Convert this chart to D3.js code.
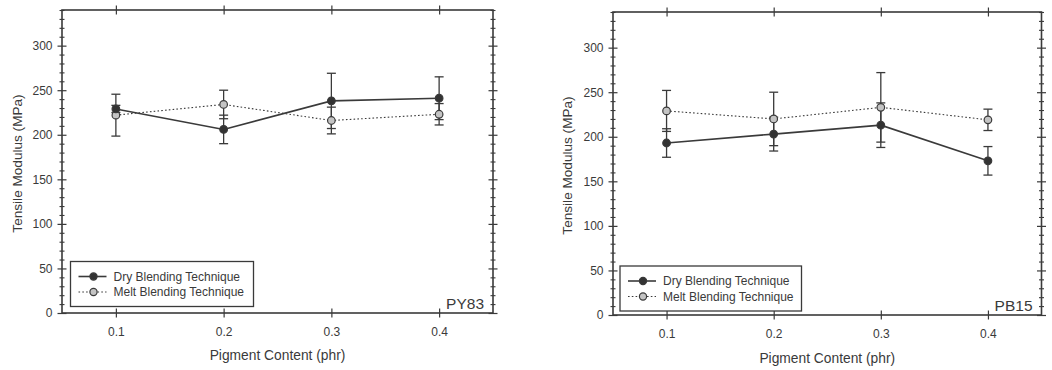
<!DOCTYPE html>
<html>
<head>
<meta charset="utf-8">
<script src="https://cdn.jsdelivr.net/npm/d3@7"></script>
<style>
  html, body { margin: 0; padding: 0; background: #fff; }
  svg { display: block; }
  text { font-family: "Liberation Sans", Arial, sans-serif; fill: #3a3a3a; }
</style>
</head>
<body>
<svg id="chart" width="1052" height="370"></svg>
<script>
// Pigment loading levels (phr)
const pigmentContent = [0.1, 0.2, 0.3, 0.4];

// PY83: tensile modulus (MPa) and error bar half-widths
const py83DryMean  = [229, 206, 238, 241];
const py83DryErr   = [4, 16, 31, 24];
const py83MeltMean = [222, 234, 216, 223];
const py83MeltErr  = [23.5, 16, 15, 12];

// PB15: tensile modulus (MPa) and error bar half-widths
const pb15DryMean  = [193, 203, 213, 173];
const pb15DryErr   = [16, 19, 25, 16];
const pb15MeltMean = [229, 220, 233, 219];
const pb15MeltErr  = [23, 30, 39, 12];

// Axis ticks
const xTickValues = [0.1, 0.2, 0.3, 0.4];
const yMajorTicks = [0, 50, 100, 150, 200, 250, 300];
const yMinorTicks = d3.range(0, 341, 10).filter(v => v % 50 !== 0);

const seriesNames = ["Dry Blending Technique", "Melt Blending Technique"];

const svg = d3.select("#chart");
const ink = "#3a3a3a";

function drawPanel(opts) {
  const x = d3.scaleLinear().domain([0.05, 0.45]).range([opts.left, opts.right]);
  const y = d3.scaleLinear().domain([0, 340]).range([opts.bottom, opts.top]);
  const g = svg.append("g");

  // Y minor ticks (left and right), crossing the frame
  const minorLeft = g.append("g").attr("transform", `translate(${opts.left},0)`)
    .call(d3.axisLeft(y).tickValues(yMinorTicks).tickFormat("").tickSize(2.5));
  const minorRight = g.append("g").attr("transform", `translate(${opts.right},0)`)
    .call(d3.axisRight(y).tickValues(yMinorTicks).tickFormat("").tickSize(2.5));
  [minorLeft, minorRight].forEach(a => {
    a.select(".domain").remove();
    a.selectAll(".tick line").attr("x1", -2.5).attr("x2", 2.5)
      .attr("stroke", ink).attr("stroke-width", 1.1);
  });

  // Y major ticks with labels on the left, mirrored on the right
  const yLeft = g.append("g").attr("transform", `translate(${opts.left},0)`)
    .call(d3.axisLeft(y).tickValues(yMajorTicks).tickSize(4.5).tickPadding(5));
  const yRight = g.append("g").attr("transform", `translate(${opts.right},0)`)
    .call(d3.axisRight(y).tickValues(yMajorTicks).tickFormat("").tickSize(4.5));
  [yLeft, yRight].forEach(a => {
    a.select(".domain").remove();
    a.selectAll(".tick line").attr("x1", -4.5).attr("x2", 4.5)
      .attr("stroke", ink).attr("stroke-width", 1.2);
  });
  yLeft.selectAll(".tick text").attr("font-size", 12).attr("fill", "#444")
    .attr("font-family", "Liberation Sans, Arial, sans-serif");

  // X ticks on bottom (labelled) and top
  const xBottom = g.append("g").attr("transform", `translate(0,${opts.bottom})`)
    .call(d3.axisBottom(x).tickValues(xTickValues).tickFormat(d3.format(".1f"))
      .tickSize(4.5).tickPadding(10));
  const xTop = g.append("g").attr("transform", `translate(0,${opts.top})`)
    .call(d3.axisTop(x).tickValues(xTickValues).tickFormat("").tickSize(4.5));
  [xBottom, xTop].forEach(a => {
    a.select(".domain").remove();
    a.selectAll(".tick line").attr("y1", -4.5).attr("y2", 4.5)
      .attr("stroke", ink).attr("stroke-width", 1.2);
  });
  xBottom.selectAll(".tick text").attr("font-size", 12).attr("fill", "#444")
    .attr("font-family", "Liberation Sans, Arial, sans-serif");

  // Plot frame
  g.append("rect")
    .attr("x", opts.left).attr("y", opts.top)
    .attr("width", opts.right - opts.left).attr("height", opts.bottom - opts.top)
    .attr("fill", "none").attr("stroke", ink).attr("stroke-width", 1.6);

  // Axis titles
  g.append("text")
    .attr("x", (opts.left + opts.right) / 2 + opts.xTitleShift).attr("y", opts.bottom + opts.xTitleDy)
    .attr("text-anchor", "middle").attr("font-size", 13.8).text("Pigment Content (phr)");
  g.append("text")
    .attr("transform", `translate(${opts.yTitleX},${(opts.top + opts.bottom) / 2 + 2}) rotate(-90)`)
    .attr("text-anchor", "middle").attr("font-size", 13.6).text("Tensile Modulus (MPa)");

  // Series: melt (dotted, grey markers) drawn first, dry on top
  const series = [
    { mean: opts.meltMean, err: opts.meltErr, dash: "1.6,2.2", width: 1.1, fill: "#c4c4c4" },
    { mean: opts.dryMean,  err: opts.dryErr,  dash: null,      width: 1.6, fill: "#333" }
  ];

  series.forEach(s => {
    const pts = pigmentContent.map((p, i) => ({ p, m: s.mean[i], e: s.err[i] }));
    // error bars
    const eb = g.append("g").attr("stroke", ink).attr("stroke-width", 1.3);
    pts.forEach(d => {
      eb.append("line").attr("x1", x(d.p)).attr("x2", x(d.p))
        .attr("y1", y(d.m - d.e)).attr("y2", y(d.m + d.e));
      [d.m - d.e, d.m + d.e].forEach(v => {
        eb.append("line").attr("x1", x(d.p) - 4.5).attr("x2", x(d.p) + 4.5)
          .attr("y1", y(v)).attr("y2", y(v));
      });
    });
  });

  series.forEach(s => {
    const pts = pigmentContent.map((p, i) => ({ p, m: s.mean[i] }));
    g.append("path").datum(pts)
      .attr("fill", "none").attr("stroke", ink).attr("stroke-width", s.width)
      .attr("stroke-dasharray", s.dash)
      .attr("d", d3.line().x(d => x(d.p)).y(d => y(d.m)));
    g.append("g").selectAll("circle").data(pts).join("circle")
      .attr("cx", d => x(d.p)).attr("cy", d => y(d.m)).attr("r", 3.8)
      .attr("fill", s.fill).attr("stroke", ink).attr("stroke-width", 1.2);
  });

  // Legend
  const lg = g.append("g").attr("transform", `translate(${opts.legendX},${opts.legendY})`);
  lg.append("rect").attr("width", opts.legendW).attr("height", 45)
    .attr("fill", "#fff").attr("stroke", ink).attr("stroke-width", 1.3);
  const legendRows = [
    { name: seriesNames[0], dash: null, width: 1.6, fill: "#333" },
    { name: seriesNames[1], dash: "1.6,2.2", width: 1.1, fill: "#c4c4c4" }
  ];
  legendRows.forEach((r, i) => {
    const cy = 15 + i * 15.5;
    lg.append("line").attr("x1", 8).attr("x2", 36).attr("y1", cy).attr("y2", cy)
      .attr("stroke", ink).attr("stroke-width", r.width).attr("stroke-dasharray", r.dash);
    lg.append("circle").attr("cx", 23).attr("cy", cy).attr("r", 3.6)
      .attr("fill", r.fill).attr("stroke", ink).attr("stroke-width", 1.2);
    lg.append("text").attr("x", 43).attr("y", cy + 4.3).attr("font-size", 12)
      .text(r.name);
  });

  // Pigment label
  g.append("text")
    .attr("x", opts.right - 9).attr("y", opts.bottom - 4)
    .attr("text-anchor", "end").attr("font-size", 15.5).text(opts.label);
}

drawPanel({
  left: 62, right: 493, top: 10, bottom: 313,
  dryMean: py83DryMean, dryErr: py83DryErr,
  meltMean: py83MeltMean, meltErr: py83MeltErr,
  label: "PY83", legendX: 70.5, legendY: 261.5, legendW: 183,
  yTitleX: 21.5, xTitleShift: 0, xTitleDy: 47
});

drawPanel({
  left: 613, right: 1041.5, top: 12, bottom: 315,
  dryMean: pb15DryMean, dryErr: pb15DryErr,
  meltMean: pb15MeltMean, meltErr: pb15MeltErr,
  label: "PB15", legendX: 620, legendY: 266, legendW: 181.5,
  yTitleX: 572, xTitleShift: 0, xTitleDy: 48
});
</script>
</body>
</html>
